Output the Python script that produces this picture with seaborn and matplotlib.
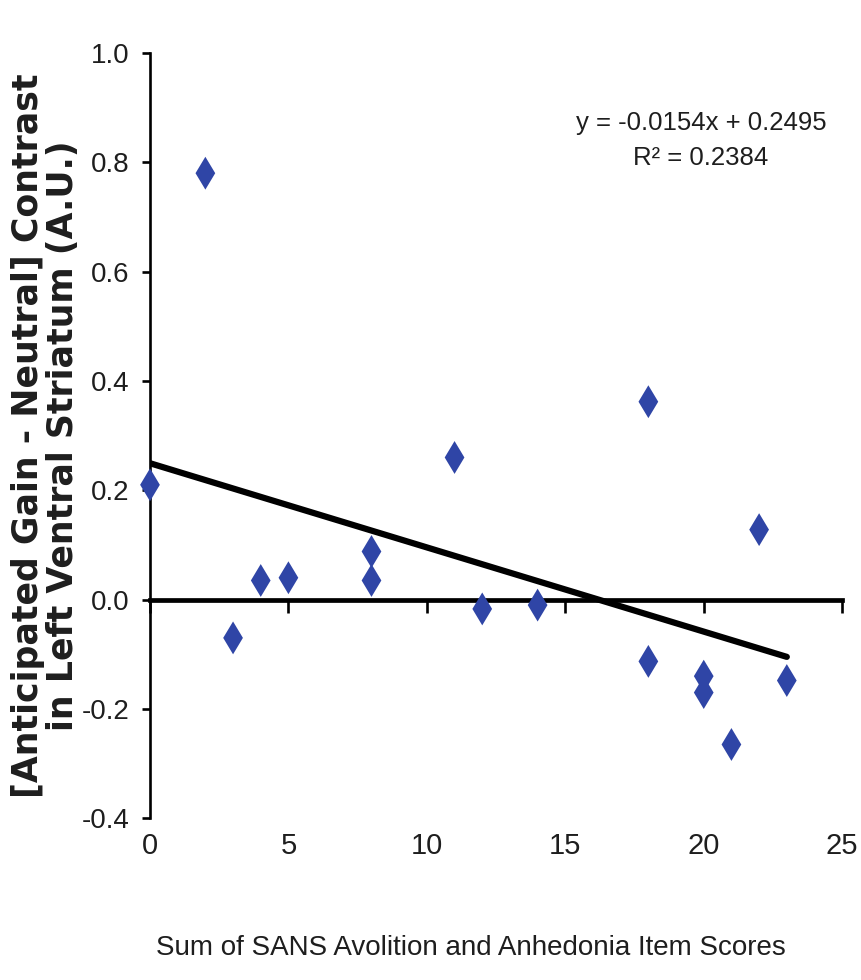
import numpy as np
import pandas as pd
import seaborn as sns
import matplotlib
matplotlib.use('Agg')
import matplotlib.pyplot as plt
from matplotlib import font_manager

# values
sans_scores = [0, 2, 3, 4, 5, 8, 8, 11, 12, 14, 18, 18, 20, 20, 21, 22, 23]
striatum = [0.21, 0.78, -0.07, 0.035, 0.04, 0.088, 0.035, 0.26, -0.017, -0.01,
            0.362, -0.113, -0.14, -0.17, -0.265, 0.128, -0.148]
slope = -0.0154
intercept = 0.2495
r_squared = 0.2384
x_ticks = [0, 5, 10, 15, 20, 25]
y_ticks = [-0.4, -0.2, 0.0, 0.2, 0.4, 0.6, 0.8, 1.0]

df = pd.DataFrame({'score': sans_scores, 'contrast': striatum})
fit = pd.DataFrame({'score': [min(sans_scores), max(sans_scores)]})
fit['contrast'] = slope * fit['score'] + intercept

sns.set_style('white')
names = {f.name for f in font_manager.fontManager.ttflist}
narrow = 'Liberation Sans Narrow' if 'Liberation Sans Narrow' in names else 'Liberation Sans'
plt.rcParams['font.family'] = [narrow, 'DejaVu Sans']

blue = '#2f45a6'
ink = '#1e1e1e'

fig = plt.figure(figsize=(8.62, 9.8), dpi=100)
ax = fig.add_axes([0.174, 0.165, 0.803, 0.781])

sns.lineplot(data=fit, x='score', y='contrast', color='black', linewidth=4.5, ax=ax, zorder=3)
sns.scatterplot(data=df, x='score', y='contrast', marker='d', s=280, color=blue,
                edgecolor='none', linewidth=0, ax=ax, zorder=4, clip_on=False)

ax.set_xlim(0, 25)
ax.set_ylim(-0.4, 1.0)
ax.set_yticks(y_ticks)
ax.set_yticklabels([f'{v:.1f}' for v in y_ticks])
ax.set_xticks(x_ticks)

for s in ['top', 'right']:
    ax.spines[s].set_visible(False)
ax.spines['left'].set_linewidth(1.9)
ax.spines['left'].set_color('black')
ax.spines['bottom'].set_position(('data', 0))
ax.spines['bottom'].set_linewidth(3.4)
ax.spines['bottom'].set_color('black')

ax.tick_params(axis='y', direction='out', length=6, width=1.9, color='black',
               left=True, labelsize=20, labelcolor=ink, pad=9)
ax.tick_params(axis='x', direction='out', length=9, width=1.9, color='black',
               bottom=True, labelbottom=False)

# tick labels sit under the plot, not at the zero line
sec = ax.secondary_xaxis('bottom')
sec.set_xticks(x_ticks)
sec.spines['bottom'].set_visible(False)
sec.tick_params(length=0, labelsize=21, labelcolor=ink, pad=10)

ax.set_xlabel('Sum of SANS Avolition and Anhedonia Item Scores', fontsize=20, color=ink)
ax.xaxis.set_label_coords(0.464, -0.153)
ax.set_ylabel('[Anticipated Gain - Neutral] Contrast\nin Left Ventral Striatum (A.U.)',
              fontsize=25, fontweight='bold', family='DejaVu Sans', color=ink,
              linespacing=1.05)
ax.yaxis.set_label_coords(-0.101, 0.5)

ax.text(19.9, 0.84, f'y = {slope}x + {intercept}\nR² = {r_squared}', ha='center',
        va='center', fontsize=18.5, color=ink, linespacing=1.55)

fig.savefig('out.png', dpi=100, facecolor='white')
